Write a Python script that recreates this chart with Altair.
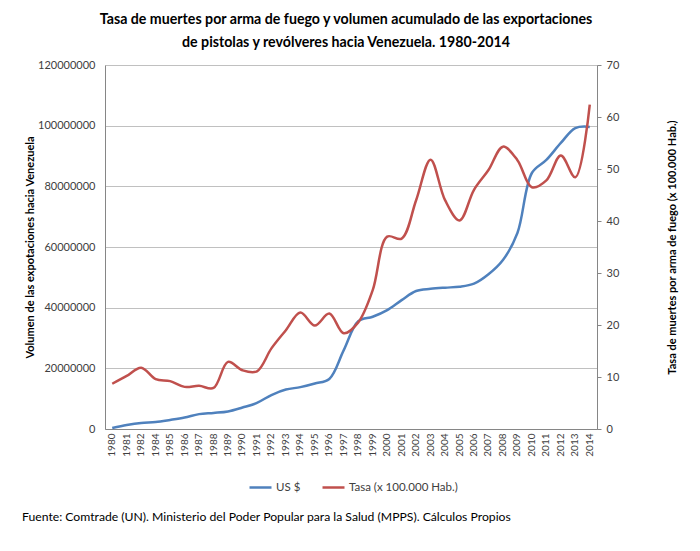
import altair as alt
import pandas as pd

years = ["1980", "1981", "1982", "1984", "1985", "1986", "1987", "1988", "1989",
         "1990", "1991", "1992", "1993", "1994", "1995", "1996", "1997", "1998",
         "1999", "2000", "2001", "2002", "2003", "2004", "2005", "2006", "2007",
         "2008", "2009", "2010", "2011", "2012", "2013", "2014"]

usd = [300000, 1300000, 2000000, 2300000, 3000000, 3800000, 4900000, 5300000, 5800000,
       7100000, 8600000, 11200000, 13000000, 13800000, 15000000, 16500000, 26000000, 35500000,
       37000000, 39200000, 42500000, 45500000, 46200000, 46600000, 46900000, 47900000, 51000000,
       55700000, 64600000, 84400000, 88700000, 94300000, 99200000, 99600000]

tasa = [8.7, 10.2, 11.8, 9.6, 9.2, 8.1, 8.3, 7.9, 12.9,
        11.3, 11.1, 15.5, 19.0, 22.4, 19.9, 22.2, 18.4, 20.5,
        26.7, 37.0, 36.6, 44.0, 51.8, 44.0, 40.1, 46.0, 49.8,
        54.3, 51.7, 46.5, 47.8, 52.6, 48.4, 62.4]

series = ["US $", "Tasa (x 100.000 Hab.)"]
colors = ["#4F81BD", "#C0504D"]

left_ticks = [0, 20000000, 40000000, 60000000, 80000000, 100000000, 120000000]
right_ticks = [0, 10, 20, 30, 40, 50, 60, 70]

title_lines = ["Tasa de muertes por arma de fuego y volumen acumulado de las exportaciones",
               "de pistolas y revólveres hacia Venezuela. 1980-2014"]
caption = "Fuente: Comtrade (UN). Ministerio del Poder Popular para la Salud (MPPS). Cálculos Propios"

df = pd.DataFrame({"year": years, "usd": usd, "tasa": tasa})

FONT = "Lato"
color_scale = alt.Scale(domain=series, range=colors)

xenc = alt.X(
    "year:O", sort=years,
    scale=alt.Scale(type="band", paddingInner=0, paddingOuter=0),
    axis=alt.Axis(title=None, labelAngle=270, labelFontSize=10, labelColor="#404040",
                  ticks=False, domainColor="#868686", labelPadding=4, grid=False,
                  labelFont=FONT),
)

base = alt.Chart(df)

blue = base.transform_calculate(serie="'US $'").mark_line(
    interpolate="catmull-rom", strokeWidth=2.5
).encode(
    x=xenc,
    y=alt.Y("usd:Q", scale=alt.Scale(domain=[0, 120000000], nice=False),
            axis=alt.Axis(values=left_ticks, format="d", title="Volumen de las expotaciones hacia Venezuela",
                          titleFontSize=11, titleFontWeight="bold", titleFont=FONT, titleColor="#000000",
                          titleX=-75, titleY=182, titleAngle=270, titleAlign="center", titleBaseline="middle",
                          labelFontSize=11, labelColor="#404040", labelFont=FONT, labelPadding=10,
                          ticks=False, domain=True, domainColor="#868686",
                          grid=True, gridColor="#c0c0c0")),
    color=alt.Color("serie:N", scale=color_scale,
                    legend=alt.Legend(title=None, orient="none", legendX=143, legendY=410,
                                      direction="horizontal", symbolType="stroke", symbolSize=484,
                                      symbolStrokeWidth=2.5, labelFontSize=11.5, labelFont=FONT,
                                      labelColor="#404040", columnPadding=16, labelOffset=3)),
)

red = base.transform_calculate(serie="'Tasa (x 100.000 Hab.)'").mark_line(
    interpolate="catmull-rom", strokeWidth=2.5
).encode(
    x=xenc,
    y=alt.Y("tasa:Q", scale=alt.Scale(domain=[0, 70], nice=False),
            axis=alt.Axis(orient="right", values=right_ticks, title="Tasa de muertes por arma de fuego (x 100.000 Hab.)",
                          titleFontSize=11, titleFontWeight="bold", titleFont=FONT, titleColor="#000000",
                          titleX=75, titleY=182, titleAngle=270, titleAlign="center", titleBaseline="middle",
                          labelFontSize=11, labelColor="#404040", labelFont=FONT, labelPadding=5,
                          ticks=True, tickSize=4, tickColor="#868686", domain=True, domainColor="#868686",
                          grid=False)),
    color=alt.Color("serie:N", scale=color_scale),
)

cap = alt.Chart(pd.DataFrame({"t": [caption]})).mark_text(
    align="left", baseline="middle", fontSize=12.2, font=FONT, color="#000000"
).encode(text="t:N", x=alt.value(-83), y=alt.value(452))

chart = alt.layer(blue, red, cap).resolve_scale(y="independent").properties(
    width=492, height=364,
    padding={"left": 97, "top": 57, "right": 95, "bottom": 114},
    autosize=alt.AutoSizeParams(type="none"),
    title=alt.Title(text=title_lines, fontSize=14.2, fontWeight="bold", font=FONT, color="#000000",
                    anchor="middle", frame="group", dx=-5, offset=9, lineHeight=23),
).configure_view(strokeWidth=0).configure(background="white")

chart.save("out.html", embed_options={"renderer": "svg", "actions": False})
